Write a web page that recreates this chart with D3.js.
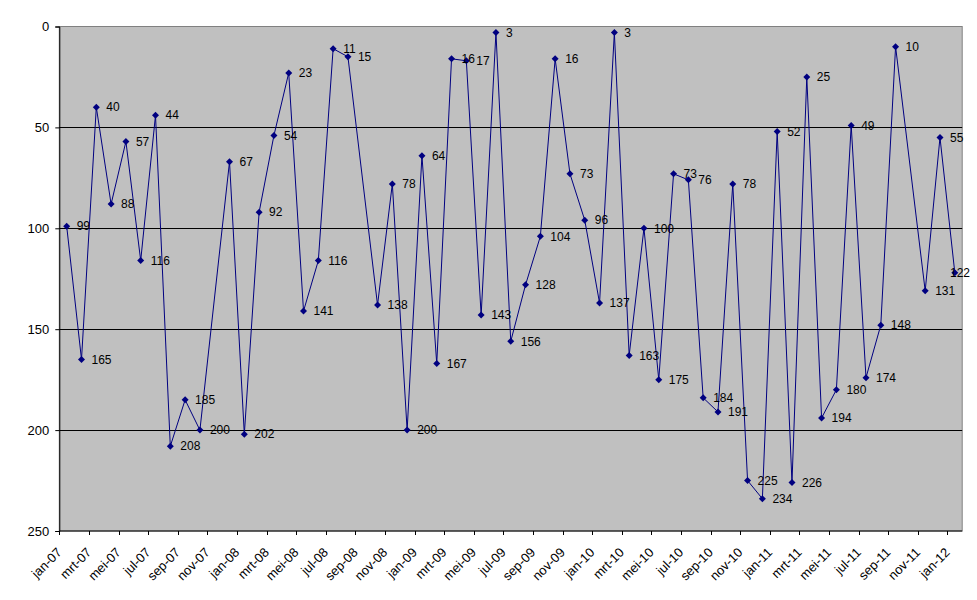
<!DOCTYPE html>
<html>
<head>
<meta charset="utf-8">
<script src="https://cdn.jsdelivr.net/npm/d3@7"></script>
<style>
  html, body { margin: 0; padding: 0; background: #ffffff; }
  svg { display: block; font-family: "Liberation Sans", Arial, sans-serif; }
</style>
</head>
<body>
<svg id="chart" width="977" height="600"></svg>
<script>
// ---- data ----
const monthNames = ["jan","feb","mrt","apr","mei","jun","jul","aug","sep","okt","nov","dec"];
const years = ["07","08","09","10","11","12"];
const categories = [];
years.forEach(yr => monthNames.forEach(m => categories.push(m + "-" + yr)));
categories.splice(61); // jan-07 .. jan-12

const values = [
  99, 165, 40, 88, 57, 116, 44, 208, 185, 200, null, 67,      // 2007
  202, 92, 54, 23, 141, 116, 11, 15, null, 138, 78, 200,      // 2008
  64, 167, 16, 17, 143, 3, 156, 128, 104, 16, 73, 96,         // 2009
  137, 3, 163, 100, 175, 73, 76, 184, 191, 78, 225, 234,      // 2010
  52, 226, 25, 194, 180, 49, 174, 148, 10, null, 131, 55,     // 2011
  122                                                         // 2012
];
const yTicks = [0, 50, 100, 150, 200, 250];
const gridValues = [50, 100, 150, 200];

// ---- layout ----
const svg = d3.select("#chart");
const plotL = 59.3, plotR = 962.2, plotT = 26.5, plotB = 531;
const labelMaxRight = 970;

const x = d3.scaleBand().domain(categories).range([plotL, plotR]).paddingInner(0).paddingOuter(0);
const y = d3.scaleLinear().domain([0, 250]).range([plotT, plotB]);

// plot area
svg.append("rect")
  .attr("x", plotL).attr("y", plotT)
  .attr("width", plotR - plotL).attr("height", plotB - plotT)
  .attr("fill", "#c0c0c0")
  .attr("stroke", "#808080").attr("stroke-width", 1);

// gridlines
svg.append("g").selectAll("line").data(gridValues).join("line")
  .attr("x1", plotL).attr("x2", plotR)
  .attr("y1", d => Math.round(y(d)) + 0.5).attr("y2", d => Math.round(y(d)) + 0.5)
  .attr("stroke", "#000").attr("stroke-width", 1);

// y axis
const yAxis = svg.append("g")
  .attr("transform", `translate(${plotL},0)`)
  .call(d3.axisLeft(y).tickValues(yTicks).tickSize(4).tickPadding(6).tickFormat(d3.format("d")));
yAxis.select(".domain").attr("stroke", "#000");
yAxis.selectAll("line").attr("stroke", "#000");
yAxis.selectAll("text").attr("font-size", "13px").attr("fill", "#000")
  .attr("font-family", "'Liberation Sans', Arial, sans-serif");

// x axis line
svg.append("line")
  .attr("x1", plotL).attr("x2", plotR).attr("y1", plotB).attr("y2", plotB)
  .attr("stroke", "#000");

const tickCats = categories.filter((d, i) => i % 2 === 0);
svg.append("g").selectAll("line").data(tickCats).join("line")
  .attr("x1", d => Math.round(x(d)) + 0.5).attr("x2", d => Math.round(x(d)) + 0.5)
  .attr("y1", plotB).attr("y2", plotB + 4)
  .attr("stroke", "#000");

svg.append("g").selectAll("text").data(tickCats).join("text")
  .attr("transform", d => `translate(${x(d)},${plotB + 19}) rotate(-45)`)
  .attr("text-anchor", "end")
  .attr("dy", "0.35em")
  .attr("font-size", "13px")
  .attr("fill", "#000")
  .text(d => d);

// line
const pts = categories.map((c, i) => ({ c, v: values[i] })).filter(d => d.v !== null);
const cx = d => x(d.c) + x.bandwidth() / 2;

svg.append("path")
  .datum(pts)
  .attr("fill", "none")
  .attr("stroke", "#000080")
  .attr("stroke-width", 1)
  .attr("d", d3.line().x(cx).y(d => y(d.v)));

// markers
svg.append("g").selectAll("path").data(pts).join("path")
  .attr("d", d => {
    const px = cx(d), py = y(d.v), r = 3.5;
    return `M${px},${py - r}L${px + r},${py}L${px},${py + r}L${px - r},${py}Z`;
  })
  .attr("fill", "#000080");

// data labels (kept inside the picture, as the reference does for the last one)
svg.append("g").selectAll("text").data(pts).join("text")
  .attr("y", d => y(d.v))
  .attr("dy", "0.35em")
  .attr("font-size", "12px")
  .attr("fill", "#000")
  .text(d => d.v)
  .attr("x", function(d) {
    const w = this.getComputedTextLength();
    return Math.min(cx(d) + 10, labelMaxRight - w);
  });
</script>
</body>
</html>
